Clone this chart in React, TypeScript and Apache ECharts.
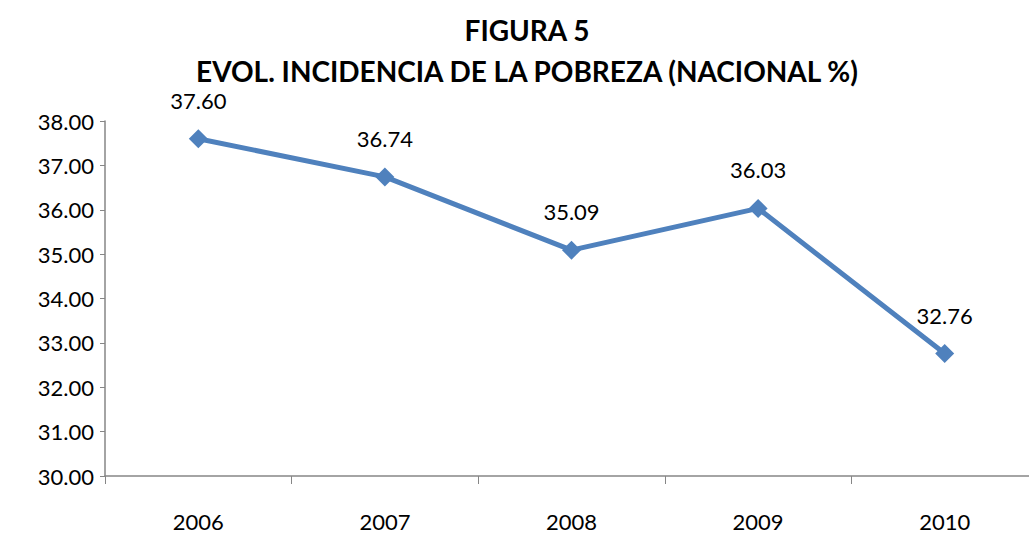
import React, { useEffect, useRef } from "react";
import * as echarts from "echarts";

const categories = ["2006", "2007", "2008", "2009", "2010"];
const values = [37.6, 36.74, 35.09, 36.03, 32.76];
const titleLines = ["FIGURA 5", "EVOL. INCIDENCIA DE LA POBREZA (NACIONAL %)"];

export default function App() {
  const ref = useRef<HTMLDivElement>(null);
  useEffect(() => {
    if (!ref.current) return;
    const chart = echarts.init(ref.current, undefined, { renderer: "svg" });
    const font = "Lato, 'Open Sans', sans-serif";
    chart.setOption({
      animation: false,
      backgroundColor: "#ffffff",
      graphic: titleLines.map((t, i) => ({
        type: "text",
        x: 527,
        y: i === 0 ? 30 : 71,
        style: {
          text: t,
          font: `bold 28px ${font}`,
          fill: "#000",
          textAlign: "center",
          textVerticalAlign: "middle",
        },
      })),
      grid: { left: 105, right: 2, top: 121, bottom: 58 },
      xAxis: {
        type: "category",
        data: categories,
        boundaryGap: true,
        axisLine: { lineStyle: { color: "#868686", width: 1.5 } },
        axisTick: { show: true, length: 8, lineStyle: { color: "#868686" } },
        axisLabel: { margin: 34, fontSize: 22, fontFamily: font, color: "#000" },
      },
      yAxis: {
        type: "value",
        min: 30,
        max: 38,
        interval: 1,
        splitLine: { show: false },
        axisLine: { show: true, lineStyle: { color: "#868686", width: 1.5 } },
        axisTick: { show: true, length: 5, lineStyle: { color: "#868686" } },
        axisLabel: {
          fontSize: 22,
          fontFamily: font,
          color: "#000",
          margin: 11,
          formatter: (v: number) => v.toFixed(2),
        },
      },
      series: [
        {
          type: "line",
          data: values,
          symbol: "diamond",
          symbolSize: 19,
          lineStyle: { color: "#4F81BD", width: 5 },
          itemStyle: { color: "#4F81BD" },
          label: {
            show: true,
            position: "top",
            distance: 18,
            fontSize: 22,
            fontFamily: font,
            color: "#000",
            formatter: (p: any) => Number(p.value).toFixed(2),
          },
        },
      ],
    });
    return () => chart.dispose();
  }, []);
  return (
    <div style={{ position: "fixed", left: 0, top: 0, width: 1029, height: 534, overflow: "hidden" }}>
      <div ref={ref} style={{ width: 1040, height: 534 }} />
    </div>
  );
}
